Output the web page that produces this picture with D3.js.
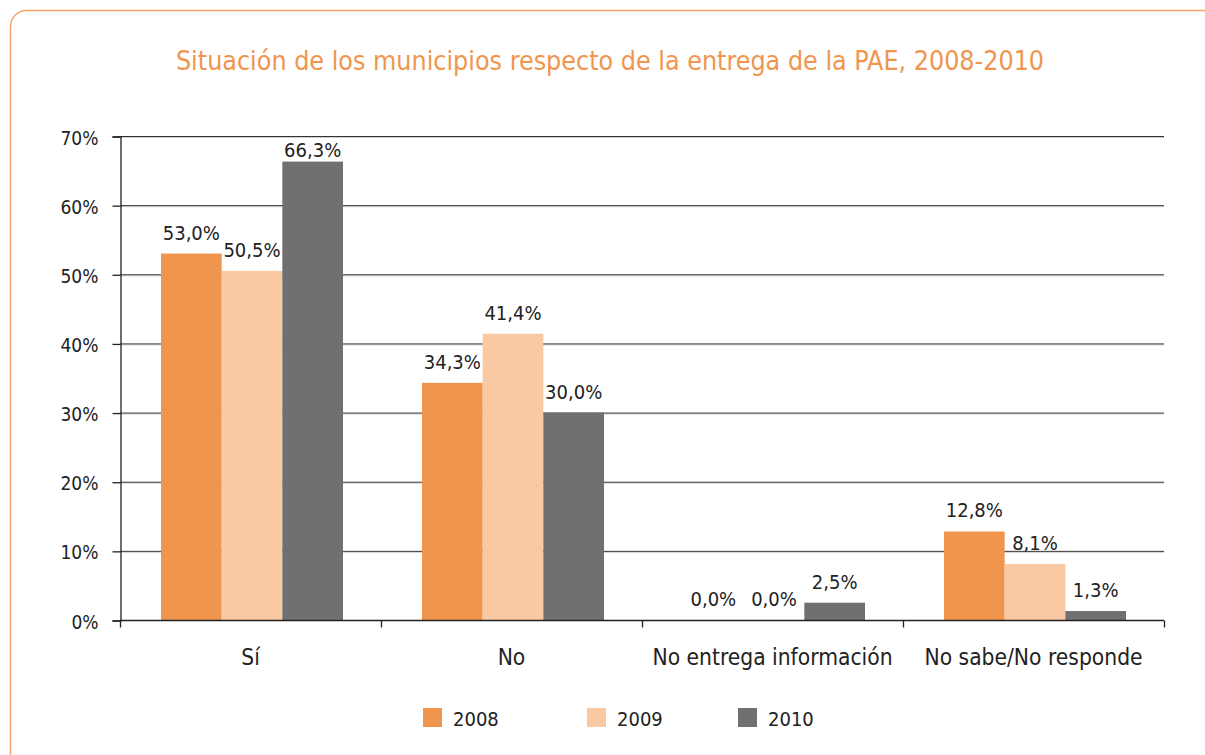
<!doctype html>
<html lang="es">
<head>
<meta charset="UTF-8">
<title>Situación de los municipios</title>
<style>
  body { margin: 0; background: #fff; }
  svg text { font-family: "DejaVu Sans Condensed", "DejaVu Sans", sans-serif; font-stretch: condensed; }
</style>
</head>
<body>
<div id="chart"></div>
<script src="https://d3js.org/d3.v7.min.js"></script>
<script>
const categories = ['Sí', 'No', 'No entrega información', 'No sabe/No responde']
const years = ['2008', '2009', '2010']
const values2008 = [53.0, 34.3, 0.0, 12.8]
const values2009 = [50.5, 41.4, 0.0, 8.1]
const values2010 = [66.3, 30.0, 2.5, 1.3]
const yTicks = [0, 10, 20, 30, 40, 50, 60, 70]
const colors = ['#f0954e', '#f9c9a3', '#707072']

const width = 1205
const height = 755
const margin = {left: 120, right: 41, top: 136, bottom: 135}

const svg = d3.select('#chart').append('svg')
  .attr('width', width)
  .attr('height', height)

// rounded orange frame, running past the right and bottom edges
svg.append('rect')
  .attr('x', 10.5).attr('y', 10.5)
  .attr('width', 1220).attr('height', 780)
  .attr('rx', 16)
  .attr('fill', 'none')
  .attr('stroke', '#f5a46c')
  .attr('stroke-width', 1.5)

svg.append('text')
  .attr('x', 610).attr('y', 70)
  .attr('text-anchor', 'middle')
  .attr('fill', '#f0954e')
  .style('font-size', '26.6px')
  .text('Situación de los municipios respecto de la entrega de la PAE, 2008-2010')

const x0 = d3.scaleBand().domain(categories)
  .range([margin.left, width - margin.right])
const x1 = d3.scaleBand().domain(years)
  .range([41, x0.bandwidth() - 38])
const y = d3.scaleLinear().domain([0, 70])
  .range([height - margin.bottom, margin.top])

// grid lines
const grid = svg.append('g')
grid.selectAll('line.shadow').data(yTicks.slice(1)).enter().append('line')
  .attr('class', 'shadow')
  .attr('x1', margin.left).attr('x2', width - margin.right)
  .attr('y1', d => y(d) + 1.5).attr('y2', d => y(d) + 1.5)
  .attr('stroke', '#cfcfcf').attr('stroke-width', 1)
grid.selectAll('line.main').data(yTicks.slice(1)).enter().append('line')
  .attr('class', 'main')
  .attr('x1', margin.left).attr('x2', width - margin.right)
  .attr('y1', d => y(d) + 0.5).attr('y2', d => y(d) + 0.5)
  .attr('stroke', '#333').attr('stroke-width', 1)

// bars
const series = [values2008, values2009, values2010]
categories.forEach((c, ci) => {
  const g = svg.append('g').attr('transform', `translate(${x0(c)},0)`)
  years.forEach((yr, si) => {
    const v = series[si][ci]
    g.append('rect')
      .attr('x', x1(yr))
      .attr('y', y(v))
      .attr('width', x1.bandwidth())
      .attr('height', y(0) - y(v))
      .attr('fill', colors[si])
    g.append('text')
      .attr('x', x1(yr) + x1.bandwidth() / 2)
      .attr('y', Math.max(y(v) - 14, y(70) + 21))
      .attr('text-anchor', 'middle')
      .attr('fill', '#222')
      .style('font-size', '20px')
      .text(d3.format('.1f')(v).replace('.', ',') + '%')
  })
})

// y axis
const yAxis = d3.axisLeft(y).tickValues(yTicks).tickSize(8).tickPadding(14)
  .tickFormat(d => d + '%')
svg.append('g')
  .attr('transform', `translate(${margin.left + 0.5},0.5)`)
  .call(yAxis)
  .call(g => g.select('.domain').attr('stroke', '#222').attr('stroke-width', 1.3))
  .call(g => g.selectAll('.tick line').attr('stroke', '#222').attr('stroke-width', 1.3))
  .call(g => g.selectAll('.tick text').attr('fill', '#222').attr('dy', '0.4em').style('font-size', '19px'))

// x axis with ticks at category boundaries
const xAxisG = svg.append('g').attr('transform', `translate(0,${y(0) + 0.5})`)
xAxisG.append('line')
  .attr('x1', margin.left).attr('x2', width - margin.right)
  .attr('stroke', '#222').attr('stroke-width', 1.3)
const bounds = categories.map(c => x0(c)).concat([x0(categories[3]) + x0.bandwidth()])
xAxisG.selectAll('line.tick').data(bounds).enter().append('line')
  .attr('class', 'tick')
  .attr('x1', d => d + 0.5).attr('x2', d => d + 0.5)
  .attr('y1', 0).attr('y2', 7)
  .attr('stroke', '#222').attr('stroke-width', 1.3)
xAxisG.selectAll('text').data(categories).enter().append('text')
  .attr('x', d => x0(d) + x0.bandwidth() / 2)
  .attr('y', 44)
  .attr('text-anchor', 'middle')
  .attr('fill', '#222')
  .style('font-size', '22.6px')
  .text(d => d)

// legend
const legendX = [423, 587, 738]
const legend = svg.append('g')
years.forEach((yr, i) => {
  legend.append('rect')
    .attr('x', legendX[i]).attr('y', 708)
    .attr('width', 19).attr('height', 19)
    .attr('fill', colors[i])
  legend.append('text')
    .attr('x', legendX[i] + 30).attr('y', 726)
    .attr('fill', '#222')
    .style('font-size', '20px')
    .text(yr)
})
</script>
</body>
</html>
